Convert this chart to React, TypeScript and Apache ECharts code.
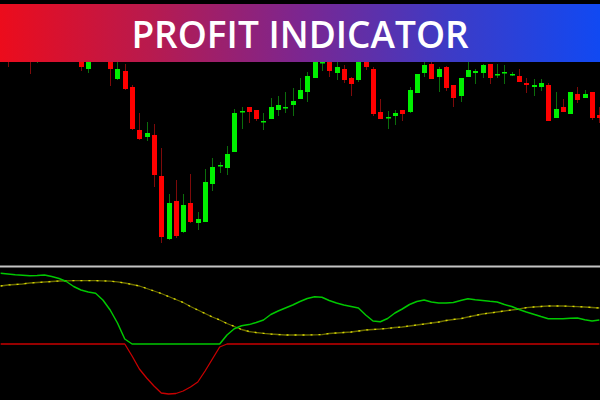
import React, { useEffect, useRef } from "react";
import * as echarts from "echarts";

// Candle prices (arbitrary price units)
const opens = [250,248,243,252,250,239,242,254,246,260,252,244,231,244,254,245,221,229,213,170,163,165,124,61,99,68,97,77,78,116,134,132,148,188.5,193,190,178.5,181,190,192.5,195,201,208,222,237.5,240,227,231,222,220,243,231,188,182.5,184,190,188,207,227,236,223,233,215,204,223,227,227,236,225.5,227.5,225.5,224,217,213,213,215,182,193,186,206,202,208,185];
const closes = [258,242,252,246,243,240.5,254,248,260,250,244,233,242,252,244,231,231,211,171,161,167,125,63,97,64,95,78,81,118,133,135,146,187,189,188,181,179,193,195,193,199,210,224,239,238,229,233,220,216,242,233,186,181,183,187,186,210,226,235,221,231,212,202,222,230,229,235,222,226,228,226,218,215,215,217,179,191,188,208,200,206,182,182];
const lows = [246,233,240,242,226,237,240,244,243,245,240,229,227,241,240,214,220,210,170,160,159,113,57,60,62,67,77,70,78,109,127,125,148,171,177,179,170,181,184,187,184,201,198,222,229,223,220,217,204,218,230,184,181,171,175,179,187,207,223,221,208,209,193,198,223,216,222,216,222,216,224,218,207,204,209,179,182,188,186,197,202,180,177];
const highs = [262,255,256,258,254,244,260,262,266,264,256,250,248,258,260,250,240,236,215,187,178,176,152,106,120,106,126,88,131,142,138,154,191,193,193,190,187,202,204,208,212,222,228,242,242,245,240,235,223,245,247,233,201,189,190,190,213,226,240,238,233,234,215,222,242,231,236,236,236,235,228,231,222,221,221,217,208,201,208,213,210,208,193];

// Indicator values
const greenLine = [70.7,70,69.2,68.8,68.3,68.5,69,67.5,65.5,62.5,57.5,54,52,50.7,44,34,21,5,0,0,0,0,0,0,0,0,0,0,0,0,0,9,15.3,18.2,19.4,21.5,24,29.5,33,36,39,42.5,45.5,47.2,46.7,43.5,41,39,37.5,36,29,23,22.3,25.5,31,35,39.5,42.5,44,42,41,41,41.5,43.5,45.3,44.3,43.5,42.7,42,39.5,37.5,34.5,32,29.8,27.5,25.3,25.3,25.3,25.8,26,24.2,23,24];
const yellowLine = [58,59,59.5,60,61,61.5,62,62.5,63,63.2,63.3,63.3,63.3,63.3,63.2,62.8,62.2,61,59.5,58,55.5,53,50.5,47.5,44.5,41.5,37.5,34,30.5,27,24,20.5,17.5,14.5,12.5,11.5,10.7,10,9.5,9,9,9,9,9.2,9.4,10.5,11,11.5,12,13,14,14.5,15,15.7,16.5,17,18,19,20,21,22,23.5,24.5,25.3,27,28.5,30,31,32,33,34,35,36.3,37,37.5,38,38,38,37.7,37.4,37,36.5,36];
const redLine = [0,0,0,0,0,0,0,0,0,0,0,0,0,0,0,0,0,0,-12,-25,-34,-42,-49,-50,-49.5,-47,-43,-38,-27,-15,-3,0,0,0,0,0,0,0,0,0,0,0,0,0,0,0,0,0,0,0,0,0,0,0,0,0,0,0,0,0,0,0,0,0,0,0,0,0,0,0,0,0,0,0,0,0,0,0,0,0,0,0,0];

const categories = opens.map((_, i) => String(i + 1));
const titleText = "PROFIT INDICATOR";

export default function App() {
  const ref = useRef<HTMLDivElement>(null);
  useEffect(() => {
    if (!ref.current) return;
    const chart = echarts.init(ref.current, null, { renderer: "svg" });
    const candleData = opens.map((o, i) => [i, o, closes[i], lows[i], highs[i]]);
    chart.setOption({
      animation: false,
      backgroundColor: "#000000",
      grid: [
        { left: 0, right: 0, top: 0, height: 266 },
        { left: 0, right: 0, top: 268, height: 132 },
      ],
      xAxis: [
        { type: "category", gridIndex: 0, data: categories, boundaryGap: true, show: false },
        { type: "category", gridIndex: 1, data: categories, boundaryGap: true, show: false },
      ],
      yAxis: [
        { type: "value", gridIndex: 0, min: 34, max: 300, show: false, splitLine: { show: false } },
        { type: "value", gridIndex: 1, min: -56, max: 76, show: false, splitLine: { show: false } },
      ],
      series: [
        {
          type: "custom",
          xAxisIndex: 0,
          yAxisIndex: 0,
          encode: { x: 0, y: [1, 2, 3, 4] },
          data: candleData,
          renderItem: (params: any, api: any) => {
            const i = api.value(0);
            const o = api.value(1);
            const c = api.value(2);
            const l = api.value(3);
            const h = api.value(4);
            const pO = api.coord([i, o]);
            const pC = api.coord([i, c]);
            const pL = api.coord([i, l]);
            const pH = api.coord([i, h]);
            const w = 5;
            const up = c >= o;
            const x = Math.round(pO[0]) + 0.5;
            const top = Math.min(pO[1], pC[1]);
            const hgt = Math.max(Math.abs(pO[1] - pC[1]), 1.5);
            return {
              type: "group",
              children: [
                {
                  type: "line",
                  shape: { x1: x, y1: pH[1], x2: x, y2: pL[1] },
                  style: { stroke: up ? "#0b6e0b" : "#7e0a0a", lineWidth: 1 },
                },
                {
                  type: "rect",
                  shape: { x: x - w / 2, y: top, width: w, height: hgt },
                  style: { fill: up ? "#00f000" : "#ff0000" },
                },
              ],
            };
          },
        },
        {
          type: "line",
          xAxisIndex: 1,
          yAxisIndex: 1,
          data: redLine,
          showSymbol: false,
          lineStyle: { color: "#c80000", width: 1.3 },
          z: 2,
        },
        {
          type: "line",
          xAxisIndex: 1,
          yAxisIndex: 1,
          data: yellowLine,
          showSymbol: false,
          lineStyle: { color: "#6a6a00", width: 1.3 },
          z: 3,
        },
        {
          type: "line",
          xAxisIndex: 1,
          yAxisIndex: 1,
          data: yellowLine,
          showSymbol: false,
          lineStyle: { color: "#d8d800", width: 1.3, type: [2, 6] },
          z: 4,
        },
        {
          type: "line",
          xAxisIndex: 1,
          yAxisIndex: 1,
          data: greenLine,
          showSymbol: false,
          lineStyle: { color: "#00c800", width: 1.5 },
          z: 5,
        },
      ],
      graphic: [
        {
          type: "line",
          shape: { x1: 0, y1: 266.5, x2: 606, y2: 266.5 },
          style: { stroke: "#c4c4c4", lineWidth: 2 },
          z: 50,
        },
        {
          type: "rect",
          shape: { x: 3, y: 4, width: 600, height: 58 },
          style: {
            fill: new echarts.graphic.LinearGradient(0, 0, 1, 0, [
              { offset: 0, color: "#ec0c1c" },
              { offset: 0.25, color: "#b81a4e" },
              { offset: 0.5, color: "#7c2690" },
              { offset: 0.75, color: "#3d3bc6" },
              { offset: 1, color: "#1149f2" },
            ]),
          },
          z: 100,
        },
        {
          type: "text",
          x: 303,
          y: 33,
          style: {
            text: titleText,
            fill: "#ffffff",
            font: "600 37px 'Open Sans'",
            textAlign: "center",
            textVerticalAlign: "middle",
          },
          z: 101,
        },
      ],
    });
    return () => chart.dispose();
  }, []);
  return (
    <div
      ref={ref}
      style={{ position: "fixed", left: -3, top: 0, width: 606, height: 400, background: "#000" }}
    />
  );
}
